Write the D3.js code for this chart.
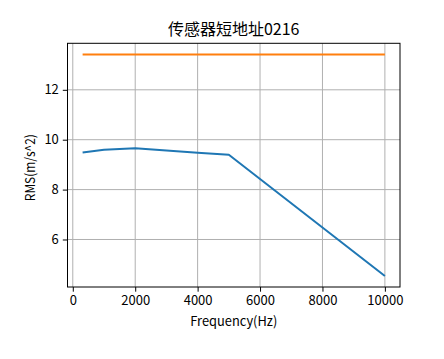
<!DOCTYPE html>
<html><head><meta charset="utf-8">
<script src="https://cdn.jsdelivr.net/npm/d3@7"></script>
<style>body{margin:0;background:#fff}svg{display:block}</style>
</head><body>
<svg id="c" width="444" height="359"></svg>
<script>
const freqs = [315, 1000, 2000, 4000, 5000, 10000];
const rmsValues = [9.49, 9.60, 9.66, 9.48, 9.40, 4.54];
const limitValues = [13.42, 13.42, 13.42, 13.42, 13.42, 13.42];
const xTicks = [0, 2000, 4000, 6000, 8000, 10000];
const yTicks = [6, 8, 10, 12];
const title = "传感器短地址0216";
const xLabel = "Frequency(Hz)";
const yLabel = "RMS(m/s^2)";

const font = "'Noto Sans CJK SC', 'DejaVu Sans', sans-serif";
const svg = d3.select("#c");
const L = 67.5, R = 400, T = 43.3, B = 287;

const xExt = d3.extent(freqs), xPad = (xExt[1]-xExt[0])*0.05;
const allY = rmsValues.concat(limitValues);
const yExt = d3.extent(allY), yPad = (yExt[1]-yExt[0])*0.05;
const x = d3.scaleLinear().domain([xExt[0]-xPad, xExt[1]+xPad]).range([L, R]);
const y = d3.scaleLinear().domain([yExt[0]-yPad, yExt[1]+yPad]).range([B, T]);

// grid
const g = svg.append("g");
g.selectAll(".vg").data(xTicks).enter().append("line")
  .attr("x1", d=>x(d)).attr("x2", d=>x(d)).attr("y1", T).attr("y2", B)
  .attr("stroke", "#b0b0b0").attr("stroke-width", 1);
g.selectAll(".hg").data(yTicks).enter().append("line")
  .attr("x1", L).attr("x2", R).attr("y1", d=>y(d)).attr("y2", d=>y(d))
  .attr("stroke", "#b0b0b0").attr("stroke-width", 1);

// lines
const line = d3.line().x((d,i)=>x(freqs[i])).y(d=>y(d));
svg.append("path").datum(rmsValues).attr("d", line).attr("fill","none")
  .attr("stroke","#1f77b4").attr("stroke-width",2).attr("stroke-linejoin","round");
svg.append("path").datum(limitValues).attr("d", line).attr("fill","none")
  .attr("stroke","#ff7f0e").attr("stroke-width",2);

// axes
const xAxis = d3.axisBottom(x).tickValues(xTicks).tickSize(4.7).tickPadding(4).tickFormat(d3.format("d"));
const yAxis = d3.axisLeft(y).tickValues(yTicks).tickSize(4.7).tickPadding(4).tickFormat(d3.format("d"));
const xa = svg.append("g").attr("transform", `translate(0,${B})`).call(xAxis);
const ya = svg.append("g").attr("transform", `translate(${L},0)`).call(yAxis);
[xa, ya].forEach(a => {
  a.select(".domain").remove();
  a.selectAll("line").attr("stroke","#000").attr("stroke-width",1);
  a.selectAll("text").attr("font-family", font).attr("font-size", 13).attr("fill","#000");
});

// frame
svg.append("rect").attr("x", L).attr("y", T).attr("width", R-L).attr("height", B-T)
  .attr("fill","none").attr("stroke","#000").attr("stroke-width",1);

// labels
svg.append("text").attr("x", (L+R)/2).attr("y", 35).attr("text-anchor","middle")
  .attr("font-family", font).attr("font-size", 16).text(title);
svg.append("text").attr("x", (L+R)/2).attr("y", 326).attr("text-anchor","middle")
  .attr("font-family", font).attr("font-size", 13.3)
  .attr("textLength", 87).attr("lengthAdjust","spacingAndGlyphs").text(xLabel);
svg.append("text").attr("transform", `translate(35,167.7) rotate(-90)`).attr("text-anchor","middle")
  .attr("font-family", font).attr("font-size", 13.3)
  .attr("textLength", 67).attr("lengthAdjust","spacingAndGlyphs").text(yLabel);
</script>
</body></html>
